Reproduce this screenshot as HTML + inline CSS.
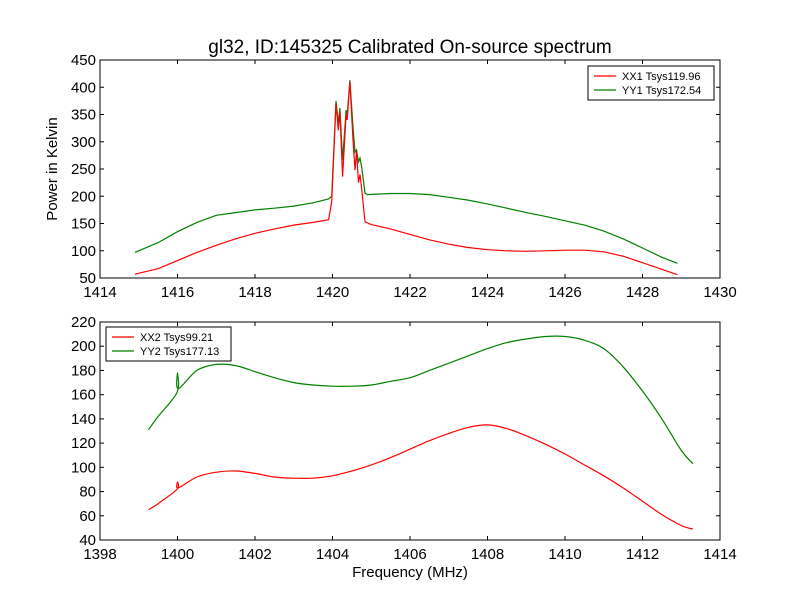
<!DOCTYPE html>
<html><head><meta charset="utf-8"><style>
body{margin:0;background:#fff}
svg{display:block;font-family:"Liberation Sans",sans-serif}
</style></head><body>
<svg id="c" width="800" height="600"></svg>
<script>
const topFreqG=[1414.9,1415.5,1416,1416.5,1417,1417.5,1418,1418.5,1419,1419.5,1419.9,1419.98,1420.09,1420.15,1420.19,1420.26,1420.35,1420.38,1420.45,1420.53,1420.58,1420.62,1420.67,1420.71,1420.75,1420.84,1420.9,1421.5,1422,1422.5,1423,1423.5,1424,1424.5,1425,1425.5,1426,1426.5,1427,1427.5,1428,1428.5,1428.9];
const topYY1=[97,115,135,152,165,170,175,178,182,188,195,200,375,334,362,266,358,349,413,327,281,285,263,270,254,206,203,205,205,203,198,193,186,178,170,163,155,147,136,122,105,88,77];
const topFreqR=[1414.9,1415.5,1416,1416.5,1417,1417.5,1418,1418.5,1419,1419.5,1419.9,1419.98,1420.09,1420.15,1420.19,1420.26,1420.35,1420.38,1420.45,1420.53,1420.58,1420.62,1420.67,1420.71,1420.75,1420.84,1421,1421.5,1422,1422.5,1423,1423.5,1424,1424.5,1425,1425.5,1426,1426.5,1427,1427.5,1428,1428.5,1428.9];
const topXX1=[57,67,82,97,110,122,132,140,147,152,157,190,370,321,355,236,350,340,410,303,248,283,225,240,215,153,148,140,130,120,112,106,102,100,99,100,101,101,98,90,78,66,56];
const botFreq=[1399.25,1399.5,1399.99,1400,1400.02,1400.5,1401,1401.5,1402,1402.5,1403,1403.5,1404,1404.5,1405,1405.5,1406,1406.5,1407,1407.5,1408,1408.5,1409,1409.5,1410,1410.5,1411,1411.5,1412,1412.5,1413,1413.3];
const botYY2=[131,142,162,178,165,180,185,184,179,174,170,168,167,167,168,171,174,180,186,192,198,203,206,208,208,205,198,183,163,140,114,103];
const botXX2=[65,70,82,88,83,92,96,97,95,92,91,91,93,97,102,108,115,122,128,133,135,132,126,119,111,102,93,83,72,61,52,49];
const topXTicks=[1414,1416,1418,1420,1422,1424,1426,1428,1430];
const topYTicks=[50,100,150,200,250,300,350,400,450];
const botXTicks=[1398,1400,1402,1404,1406,1408,1410,1412,1414];
const botYTicks=[40,60,80,100,120,140,160,180,200,220];

const svg=document.getElementById('c');const NS='http://www.w3.org/2000/svg';
function el(t,a,txt){const e=document.createElementNS(NS,t);for(const k in a)e.setAttribute(k,a[k]);if(txt!==undefined)e.textContent=txt;svg.appendChild(e);return e;}
function axes(name,L,T,R,B,x0,x1,y0,y1,xt,yt){
  const sx=v=>L+(v-x0)/(x1-x0)*(R-L), sy=v=>B-(v-y0)/(y1-y0)*(B-T);
  const f=el('rect',{x:L,y:T,width:R-L,height:B-T,fill:'none',stroke:'#000'});
  
  xt.forEach(v=>{const x=sx(v);el('line',{x1:x,x2:x,y1:B,y2:B-4,stroke:'#000'});el('line',{x1:x,x2:x,y1:T,y2:T+4,stroke:'#000'});
    const t=el('text',{x:x,y:B+19,'text-anchor':'middle','font-size':15},v);});
  yt.forEach(v=>{const y=sy(v);el('line',{x1:L,x2:L+4,y1:y,y2:y,stroke:'#000'});el('line',{x1:R,x2:R-4,y1:y,y2:y,stroke:'#000'});
    const t=el('text',{x:L-4,y:y+5,'text-anchor':'end','font-size':15},v);});
  return {sx,sy};
}
function line(ax,xs,ys,col,name,smooth){
  const P=xs.map((x,i)=>[ax.sx(x),ax.sy(ys[i])]);
  let d='M'+P[0][0].toFixed(1)+','+P[0][1].toFixed(1);
  for(let i=0;i<P.length-1;i++){
    if(smooth){const p0=P[Math.max(i-1,0)],p1=P[i],p2=P[i+1],p3=P[Math.min(i+2,P.length-1)];
      const c1=[p1[0]+(p2[0]-p0[0])/6,p1[1]+(p2[1]-p0[1])/6],c2=[p2[0]-(p3[0]-p1[0])/6,p2[1]-(p3[1]-p1[1])/6];
      d+=' C'+c1.map(v=>v.toFixed(1))+' '+c2.map(v=>v.toFixed(1))+' '+p2.map(v=>v.toFixed(1));}
    else d+=' L'+P[i+1].map(v=>v.toFixed(1));
  }
  const p=el('path',{d:d,fill:'none',stroke:col,'stroke-width':1.2});
  
}
function legend(name,x,y,w,items){
  const r=el('rect',{x:x,y:y,width:w,height:34,fill:'#fff',stroke:'#000'});
  items.forEach((it,i)=>{const yy=y+10+i*14;el('line',{x1:x+6,x2:x+28,y1:yy,y2:yy,stroke:it[1],'stroke-width':1.2});
    const t=el('text',{x:x+34,y:yy+4,'font-size':11},it[0]);});
}
const t=el('text',{x:410,y:53,'text-anchor':'middle','font-size':19},'gl32, ID:145325 Calibrated On-source spectrum');

const a1=axes('top',100,60,720,278,1414,1430,50,450,topXTicks,topYTicks);
line(a1,topFreqG,topYY1,'#008000','yy1-line',false);
line(a1,topFreqR,topXX1,'#ff0000','xx1-line',false);
legend('top-legend',588,66,126,[['XX1 Tsys119.96','#ff0000'],['YY1 Tsys172.54','#008000']]);
const yl=el('text',{x:0,y:0,'text-anchor':'middle','font-size':15,transform:'translate(57,169) rotate(-90)'},'Power in Kelvin');

const a2=axes('bottom',100,322,720,540,1398,1414,40,220,botXTicks,botYTicks);
line(a2,botFreq,botYY2,'#008000','yy2-line',true);
line(a2,botFreq,botXX2,'#ff0000','xx2-line',true);
legend('bottom-legend',106,327,125,[['XX2 Tsys99.21','#ff0000'],['YY2 Tsys177.13','#008000']]);
const xl=el('text',{x:410,y:577,'text-anchor':'middle','font-size':15},'Frequency (MHz)');

</script></body></html>
